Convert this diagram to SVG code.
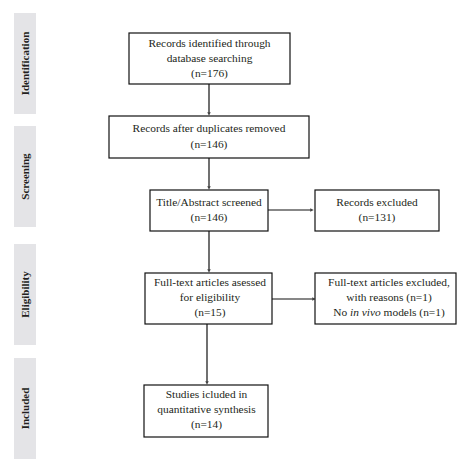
<svg xmlns="http://www.w3.org/2000/svg" width="467" height="472" viewBox="0 0 467 472">
<style>
.band{fill:#e4e4e7}
.lab{font-family:"Liberation Serif",serif;font-weight:bold;font-size:11px;fill:#231f20;text-anchor:middle}
.box{fill:#fff;stroke:#111;stroke-width:1.2}
.t{font-family:"Liberation Serif",serif;font-size:11.4px;fill:#231f20;text-anchor:middle}
.ln{stroke:#111;stroke-width:1.2;fill:none;marker-end:url(#ah)}
</style>
<defs>
<marker id="ah" viewBox="0 0 4 4" refX="2" refY="2" markerWidth="3.5" markerHeight="3.5" orient="auto" markerUnits="userSpaceOnUse">
<path d="M0,0 L4,2 L0,4 z" fill="#444"/>
</marker>
</defs>
<rect width="467" height="472" fill="#fff"/>
<g id="stages">
<rect class="band" x="14" y="13" width="22" height="101"/>
<text class="lab" transform="translate(28.8,63.5) rotate(-90)">Identification</text>
<rect class="band" x="14" y="126" width="22" height="101"/>
<text class="lab" transform="translate(28.8,176.5) rotate(-90)">Screening</text>
<rect class="band" x="14" y="244" width="22" height="101"/>
<text class="lab" transform="translate(28.8,294.5) rotate(-90)">Eligibility</text>
<rect class="band" x="14" y="358" width="22" height="101"/>
<text class="lab" transform="translate(28.8,408.5) rotate(-90)">Included</text>
</g>
<g id="connectors">
<line class="ln" x1="209" y1="84" x2="209" y2="114"/>
<line class="ln" x1="209" y1="158" x2="209" y2="188"/>
<line class="ln" x1="209" y1="231" x2="209" y2="271"/>
<line class="ln" x1="207" y1="324" x2="207" y2="383"/>
<line class="ln" x1="268" y1="210" x2="312" y2="210"/>
<line class="ln" x1="272" y1="299" x2="314" y2="299"/>
</g>
<g id="identified">
<rect class="box" x="129" y="33" width="161" height="51"/>
<text class="t" x="209.5" y="47">Records identified through</text>
<text class="t" x="209.5" y="62">database searching</text>
<text class="t" x="209.5" y="77">(n=176)</text>
</g>
<g id="dedup">
<rect class="box" x="109" y="116" width="200" height="42"/>
<text class="t" x="209" y="132">Records after duplicates removed</text>
<text class="t" x="209" y="148">(n=146)</text>
</g>
<g id="screened">
<rect class="box" x="150" y="190" width="118" height="41"/>
<text class="t" x="209" y="206">Title/Abstract screened</text>
<text class="t" x="209" y="221">(n=146)</text>
</g>
<g id="excluded1">
<rect class="box" x="315" y="190" width="124" height="41"/>
<text class="t" x="377" y="206">Records excluded</text>
<text class="t" x="377" y="221">(n=131)</text>
</g>
<g id="fulltext">
<rect class="box" x="145" y="273" width="127" height="51"/>
<text class="t" x="210" y="286">Full-text articles asessed</text>
<text class="t" x="210" y="301">for eligibility</text>
<text class="t" x="210" y="316">(n=15)</text>
</g>
<g id="excluded2">
<rect class="box" x="315" y="273" width="141" height="51"/>
<text class="t" x="389" y="286">Full-text articles excluded,</text>
<text class="t" x="389" y="301">with reasons (n=1)</text>
<text class="t" x="389" y="316">No <tspan font-style="italic">in vivo</tspan> models (n=1)</text>
</g>
<g id="included">
<rect class="box" x="144" y="385" width="124" height="52"/>
<text class="t" x="206.5" y="398">Studies icluded in</text>
<text class="t" x="206.5" y="413">quantitative synthesis</text>
<text class="t" x="206.5" y="428">(n=14)</text>
</g>
</svg>
